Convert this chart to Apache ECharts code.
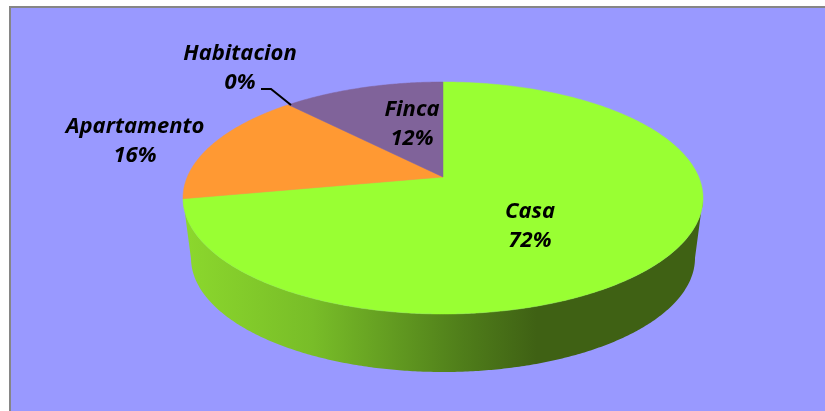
<!DOCTYPE html>
<html>
<head>
<meta charset="utf-8">
<style>html,body{margin:0;padding:0;background:#fff}#c{width:825px;height:411px}</style>
<script src="https://cdn.jsdelivr.net/npm/echarts@6/dist/echarts.min.js"></script>
</head>
<body>
<div id="c"></div>
<script>
// Data, clockwise from twelve o'clock
const categories = ['Casa', 'Apartamento', 'Habitacion', 'Finca'];
const values = [72, 16, 0, 12];
const sliceColors = ['#99ff33', '#ff9933', '#9999ff', '#80639a'];
const labelCenters = [[530, 226], [135, 141], [240, 68], [412, 124]];

// Perspective pie geometry (unit circle projected on the page)
const CX = 443, APEX_Y = 177, TOP_Y = 82, BOTTOM_Y = 314;
const K = (2 * APEX_Y - TOP_Y - BOTTOM_Y) / (TOP_Y - BOTTOM_Y);
const B = TOP_Y * (1 + K) - APEX_Y;
const D = 260 * Math.sqrt(1 - K * K);
const WALL = { cy: 258, topCy: 198, sx: 252 / 260, sy: 114 / 116 };
const FRONT = [100.4, 259.6];

function topPt(deg) {
  const t = deg * Math.PI / 180, u = Math.sin(t), v = Math.cos(t), w = 1 + K * v;
  return [CX + D * u / w, (APEX_Y + B * v) / w];
}
function botPt(deg) {
  const p = topPt(deg);
  return [CX + (p[0] - CX) * WALL.sx, WALL.cy + (p[1] - WALL.topCy) * WALL.sy];
}
function arc(fn, a, b) {
  const n = Math.max(2, Math.ceil(Math.abs(b - a) * 2)), out = [];
  for (let i = 0; i <= n; i++) out.push(fn(a + (b - a) * i / n));
  return out;
}

const total = values.reduce((s, v) => s + v, 0);
const starts = [];
values.reduce((s, v, i) => { starts[i] = s; return s + v; }, 0);

const wallFill = new echarts.graphic.LinearGradient(183, 0, 703, 0, [
  { offset: 0, color: '#8cd82d' },
  { offset: 0.25, color: '#78bd28' },
  { offset: 0.54, color: '#4f7d1a' },
  { offset: 0.68, color: '#3f6114' },
  { offset: 1, color: '#3f6114' }
], true);

function renderItem(params, api) {
  const i = params.dataIndex;
  const a0 = api.value(1) / total * 360, a1 = a0 + api.value(0) / total * 360;
  const children = [];
  const w0 = Math.max(a0, FRONT[0]), w1 = Math.min(a1, FRONT[1]);
  if (w1 - w0 > 1) {
    children.push({
      type: 'polygon',
      shape: { points: arc(topPt, w0, w1).concat(arc(botPt, w1, w0)) },
      style: { fill: wallFill }
    });
  }
  if (a1 > a0) {
    const color = sliceColors[i];
    children.push({
      type: 'polygon',
      z2: 5,
      shape: { points: [[CX, APEX_Y]].concat(arc(topPt, a0, a1)) },
      style: { fill: color, stroke: color, lineWidth: 0.5 }
    });
  }
  return { type: 'group', children };
}

function renderLabel(params, api) {
  const i = params.dataIndex, c = labelCenters[i];
  return {
    type: 'text',
    z2: 20,
    style: {
      text: categories[i] + '\n' + api.value(0) + '%',
      x: c[0], y: c[1],
      align: 'center', verticalAlign: 'middle',
      fontFamily: 'Open Sans', fontStyle: 'italic', fontWeight: 'bold',
      fontSize: 22, lineHeight: 29, fill: '#000'
    }
  };
}

const seriesData = values.map((v, i) => ({ name: categories[i], value: [v, starts[i]] }));
const chart = echarts.init(document.getElementById('c'), null, { renderer: 'canvas' });
chart.setOption({
  animation: false,
  graphic: [
    { type: 'rect', z: -1, shape: { x: 10, y: 7, width: 830, height: 420 },
      style: { fill: '#9999ff', stroke: '#868686', lineWidth: 2 } },
    { type: 'polyline', z: 10, shape: { points: [[261, 89], [271, 89], [291, 105]] },
      style: { stroke: '#000', lineWidth: 2, fill: null } }
  ],
  series: [
    { type: 'custom', coordinateSystem: 'none', silent: true, z: 2, renderItem, data: seriesData },
    { type: 'custom', coordinateSystem: 'none', silent: true, z: 12, renderItem: renderLabel, data: seriesData }
  ]
});
</script>
</body>
</html>
